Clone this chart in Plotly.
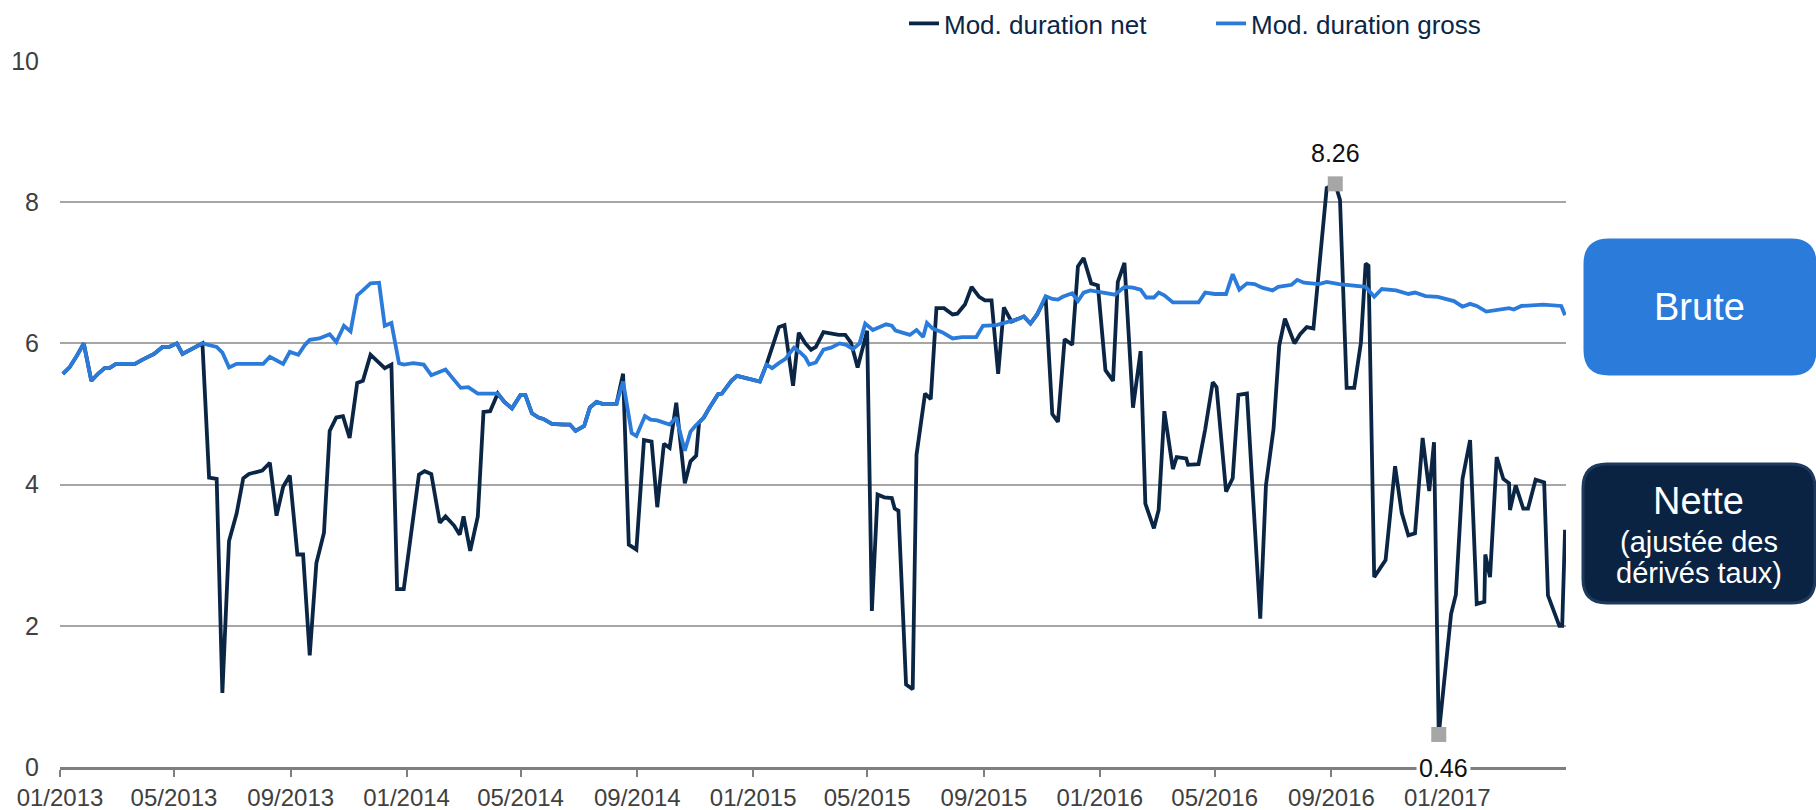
import plotly.graph_objects as go

# Modified duration of the portfolio: gross and net of interest-rate derivatives
gross_dates = [
    "2013-01-04", "2013-01-11", "2013-01-19", "2013-01-26", "2013-02-03", "2013-02-10",
    "2013-02-17", "2013-02-22", "2013-03-01", "2013-03-21", "2013-03-29", "2013-04-10",
    "2013-04-19", "2013-04-26", "2013-05-04", "2013-05-10", "2013-05-31", "2013-06-15",
    "2013-06-21", "2013-06-28", "2013-07-06", "2013-08-03", "2013-08-10", "2013-08-24",
    "2013-08-31", "2013-09-09", "2013-09-16", "2013-09-21", "2013-10-01", "2013-10-12",
    "2013-10-19", "2013-10-27", "2013-11-03", "2013-11-10", "2013-11-16", "2013-11-24",
    "2013-12-03", "2013-12-09", "2013-12-16", "2013-12-24", "2013-12-29", "2014-01-08",
    "2014-01-19", "2014-01-27", "2014-02-11", "2014-02-20", "2014-02-27", "2014-03-07",
    "2014-03-17", "2014-04-07", "2014-04-14", "2014-04-22", "2014-05-01", "2014-05-06",
    "2014-05-13", "2014-05-20", "2014-05-25", "2014-06-03", "2014-06-14", "2014-06-22",
    "2014-06-28", "2014-07-07", "2014-07-13", "2014-07-20", "2014-07-27", "2014-08-10",
    "2014-08-17", "2014-08-26", "2014-08-31", "2014-09-09", "2014-09-15", "2014-09-22",
    "2014-10-05", "2014-10-12", "2014-10-21", "2014-10-27", "2014-11-01", "2014-11-10",
    "2014-11-16", "2014-11-25", "2014-11-29", "2014-12-09", "2014-12-15", "2015-01-08",
    "2015-01-15", "2015-01-21", "2015-01-28", "2015-02-04", "2015-02-13", "2015-02-19",
    "2015-02-25", "2015-03-01", "2015-03-08", "2015-03-16", "2015-03-24", "2015-04-02",
    "2015-04-09", "2015-04-16", "2015-04-23", "2015-04-29", "2015-05-07", "2015-05-21",
    "2015-05-27", "2015-05-31", "2015-06-15", "2015-06-22", "2015-06-29", "2015-07-03",
    "2015-07-09", "2015-07-19", "2015-07-30", "2015-08-09", "2015-08-24", "2015-08-31",
    "2015-09-14", "2015-09-30", "2015-10-06", "2015-10-13", "2015-10-20", "2015-10-27",
    "2015-11-05", "2015-11-12", "2015-11-18", "2015-11-23", "2015-12-03", "2015-12-09",
    "2015-12-15", "2015-12-22", "2015-12-30", "2016-01-07", "2016-01-17", "2016-01-27",
    "2016-02-05", "2016-02-13", "2016-02-19", "2016-02-27", "2016-03-03", "2016-03-09",
    "2016-03-18", "2016-04-14", "2016-04-21", "2016-05-01", "2016-05-13", "2016-05-20",
    "2016-05-27", "2016-06-04", "2016-06-12", "2016-06-20", "2016-07-01", "2016-07-07",
    "2016-07-21", "2016-07-27", "2016-08-03", "2016-08-19", "2016-08-27", "2016-09-09",
    "2016-09-20", "2016-10-07", "2016-10-16", "2016-10-24", "2016-11-08", "2016-11-21",
    "2016-11-28", "2016-12-09", "2016-12-22", "2017-01-08", "2017-01-17", "2017-01-25",
    "2017-02-01", "2017-02-11", "2017-03-07", "2017-03-12", "2017-03-20", "2017-04-12",
    "2017-05-01", "2017-05-05",
]
gross_values = [
    5.57, 5.66, 5.83, 6.00, 5.47, 5.57,
    5.65, 5.65, 5.71, 5.71, 5.77, 5.85,
    5.95, 5.95, 6.00, 5.85, 6.00, 5.95,
    5.87, 5.66, 5.71, 5.71, 5.81, 5.71,
    5.88, 5.84, 5.98, 6.05, 6.07, 6.13,
    6.02, 6.25, 6.17, 6.68, 6.75, 6.85,
    6.86, 6.25, 6.29, 5.72, 5.70, 5.72,
    5.70, 5.55, 5.63, 5.48, 5.37, 5.38,
    5.29, 5.29, 5.17, 5.08, 5.27, 5.27,
    5.01, 4.95, 4.93, 4.86, 4.85, 4.85,
    4.76, 4.83, 5.09, 5.17, 5.14, 5.14,
    5.46, 4.73, 4.69, 4.97, 4.92, 4.91,
    4.85, 4.95, 4.48, 4.75, 4.83, 4.95,
    5.09, 5.28, 5.29, 5.47, 5.54, 5.46,
    5.70, 5.65, 5.72, 5.78, 5.94, 5.88,
    5.80, 5.70, 5.73, 5.91, 5.94, 6.00,
    5.98, 5.92, 6.00, 6.28, 6.19, 6.27,
    6.25, 6.18, 6.12, 6.19, 6.09, 6.29,
    6.21, 6.16, 6.07, 6.09, 6.09, 6.25,
    6.26, 6.31, 6.34, 6.38, 6.28, 6.41,
    6.67, 6.63, 6.62, 6.66, 6.71, 6.60,
    6.72, 6.75, 6.73, 6.72, 6.69, 6.80,
    6.79, 6.76, 6.65, 6.65, 6.72, 6.68,
    6.58, 6.58, 6.72, 6.70, 6.70, 6.98,
    6.76, 6.85, 6.84, 6.79, 6.75, 6.80,
    6.83, 6.90, 6.86, 6.84, 6.87, 6.84,
    6.82, 6.80, 6.66, 6.77, 6.75, 6.70,
    6.72, 6.67, 6.66, 6.60, 6.52, 6.56,
    6.53, 6.45, 6.50, 6.48, 6.53, 6.55,
    6.53, 6.40,
]

net_dates = [
    "2013-01-04", "2013-01-11", "2013-01-19", "2013-01-26", "2013-02-03", "2013-02-10",
    "2013-02-17", "2013-02-22", "2013-03-01", "2013-03-21", "2013-03-29", "2013-04-10",
    "2013-04-19", "2013-04-26", "2013-05-04", "2013-05-10", "2013-05-31", "2013-06-07",
    "2013-06-15", "2013-06-21", "2013-06-28", "2013-07-06", "2013-07-13", "2013-07-19",
    "2013-08-02", "2013-08-10", "2013-08-17", "2013-08-24", "2013-08-31", "2013-09-08",
    "2013-09-14", "2013-09-21", "2013-09-28", "2013-10-06", "2013-10-12", "2013-10-19",
    "2013-10-26", "2013-11-02", "2013-11-10", "2013-11-16", "2013-11-24", "2013-12-02",
    "2013-12-09", "2013-12-16", "2013-12-22", "2013-12-29", "2014-01-07", "2014-01-14",
    "2014-01-20", "2014-01-27", "2014-02-05", "2014-02-11", "2014-02-20", "2014-02-26",
    "2014-03-02", "2014-03-09", "2014-03-17", "2014-03-23", "2014-03-30", "2014-04-07",
    "2014-04-14", "2014-04-22", "2014-05-01", "2014-05-06", "2014-05-13", "2014-05-20",
    "2014-05-25", "2014-06-03", "2014-06-14", "2014-06-22", "2014-06-28", "2014-07-07",
    "2014-07-13", "2014-07-20", "2014-07-27", "2014-08-10", "2014-08-17", "2014-08-23",
    "2014-08-31", "2014-09-08", "2014-09-16", "2014-09-22", "2014-09-29", "2014-10-05",
    "2014-10-12", "2014-10-21", "2014-10-27", "2014-11-02", "2014-11-05", "2014-11-10",
    "2014-11-16", "2014-11-25", "2014-11-29", "2014-12-09", "2014-12-15", "2015-01-08",
    "2015-01-15", "2015-01-21", "2015-01-28", "2015-02-03", "2015-02-12", "2015-02-18",
    "2015-02-25", "2015-03-03", "2015-03-08", "2015-03-16", "2015-03-24", "2015-04-01",
    "2015-04-08", "2015-04-14", "2015-04-21", "2015-05-01", "2015-05-06", "2015-05-12",
    "2015-05-19", "2015-05-27", "2015-05-30", "2015-06-03", "2015-06-11", "2015-06-18",
    "2015-06-22", "2015-07-01", "2015-07-07", "2015-07-13", "2015-07-21", "2015-07-30",
    "2015-08-04", "2015-08-12", "2015-08-19", "2015-08-27", "2015-09-02", "2015-09-09",
    "2015-09-16", "2015-09-22", "2015-09-30", "2015-10-06", "2015-10-13", "2015-10-20",
    "2015-10-27", "2015-11-05", "2015-11-12", "2015-11-18", "2015-11-25", "2015-12-03",
    "2015-12-09", "2015-12-15", "2015-12-23", "2015-12-30", "2016-01-07", "2016-01-15",
    "2016-01-20", "2016-01-27", "2016-02-05", "2016-02-13", "2016-02-18", "2016-02-27",
    "2016-03-03", "2016-03-09", "2016-03-18", "2016-03-22", "2016-04-01", "2016-04-03",
    "2016-04-14", "2016-04-21", "2016-04-29", "2016-05-03", "2016-05-13", "2016-05-20",
    "2016-05-26", "2016-06-04", "2016-06-12", "2016-06-18", "2016-06-24", "2016-07-02",
    "2016-07-08", "2016-07-14", "2016-07-24", "2016-07-30", "2016-08-06", "2016-08-13",
    "2016-08-27", "2016-09-05", "2016-09-10", "2016-09-17", "2016-09-25", "2016-10-02",
    "2016-10-07", "2016-10-10", "2016-10-16", "2016-10-28", "2016-11-07", "2016-11-14",
    "2016-11-21", "2016-11-28", "2016-12-06", "2016-12-13", "2016-12-18", "2016-12-23",
    "2017-01-05", "2017-01-10", "2017-01-17", "2017-01-25", "2017-02-01", "2017-02-09",
    "2017-02-10", "2017-02-15", "2017-02-22", "2017-03-01", "2017-03-07", "2017-03-08",
    "2017-03-14", "2017-03-22", "2017-03-27", "2017-04-04", "2017-04-13", "2017-04-17",
    "2017-04-29", "2017-05-02", "2017-05-05",
]
net_values = [
    5.57, 5.66, 5.83, 6.00, 5.47, 5.57,
    5.65, 5.65, 5.71, 5.71, 5.77, 5.85,
    5.95, 5.95, 6.00, 5.85, 6.00, 4.10,
    4.08, 1.05, 3.20, 3.59, 4.09, 4.15,
    4.20, 4.31, 3.56, 3.97, 4.13, 3.01,
    3.01, 1.58, 2.89, 3.32, 4.76, 4.95,
    4.97, 4.66, 5.44, 5.47, 5.84, 5.73,
    5.65, 5.70, 2.52, 2.52, 3.49, 4.14,
    4.19, 4.15, 3.46, 3.55, 3.42, 3.29,
    3.55, 3.06, 3.55, 5.03, 5.04, 5.29,
    5.17, 5.08, 5.27, 5.27, 5.01, 4.95,
    4.93, 4.86, 4.85, 4.85, 4.76, 4.83,
    5.09, 5.17, 5.14, 5.14, 5.57, 3.15,
    3.08, 4.63, 4.61, 3.68, 4.58, 4.52,
    5.16, 4.02, 4.33, 4.41, 4.88, 4.95,
    5.09, 5.28, 5.29, 5.47, 5.54, 5.46,
    5.70, 5.95, 6.23, 6.26, 5.40, 6.15,
    6.00, 5.91, 5.95, 6.16, 6.14, 6.12,
    6.12, 6.01, 5.66, 6.18, 2.21, 3.86,
    3.82, 3.81, 3.66, 3.63, 1.17, 1.10,
    4.42, 5.29, 5.21, 6.50, 6.50, 6.41,
    6.42, 6.55, 6.80, 6.66, 6.61, 6.61,
    5.57, 6.51, 6.31, 6.34, 6.38, 6.28,
    6.41, 6.65, 5.00, 4.89, 6.06, 5.98,
    7.09, 7.21, 6.85, 6.82, 5.62, 5.47,
    6.87, 7.14, 5.09, 5.89, 3.73, 3.38,
    3.64, 5.04, 4.22, 4.39, 4.37, 4.28,
    4.29, 4.78, 5.45, 5.38, 3.90, 4.09,
    5.27, 5.29, 3.42, 2.10, 3.99, 4.79,
    5.97, 6.35, 6.00, 6.13, 6.23, 6.21,
    8.20, 8.26, 8.03, 5.37, 5.37, 6.01,
    7.13, 7.10, 2.69, 2.93, 4.26, 3.60,
    3.28, 3.31, 4.66, 3.91, 4.60, 0.46,
    2.17, 2.44, 4.08, 4.63, 2.31, 2.34,
    3.01, 2.69, 4.39, 4.08, 4.02, 3.64,
    3.99, 3.66, 3.66, 4.07, 4.03, 2.43,
    2.00, 2.00, 3.36,
]

tick_dates = [
    "2013-01-01", "2013-05-01", "2013-09-01", "2014-01-01", "2014-05-01", "2014-09-01",
    "2015-01-01", "2015-05-01", "2015-09-01", "2016-01-01", "2016-05-01", "2016-09-01",
    "2017-01-01",
]
tick_labels = [
    "01/2013", "05/2013", "09/2013", "01/2014", "05/2014", "09/2014",
    "01/2015", "05/2015", "09/2015", "01/2016", "05/2016", "09/2016",
    "01/2017",
]

NET_COLOR = "#0b2645"
GROSS_COLOR = "#2b7bdb"
GRID_COLOR = "#a6a6a6"
AXIS_COLOR = "#7f7f7f"
TEXT_COLOR = "#404040"
FONT = "Liberation Sans, Arial, sans-serif"

W, H = 1816, 810
L, R, T, B = 60, 250, 61, 43
PLOT_W = W - L - R
PLOT_H = H - T - B

fig = go.Figure()

fig.add_trace(go.Scatter(
    x=net_dates, y=net_values, mode="lines", name="Mod. duration net",
    line=dict(color=NET_COLOR, width=3.8),
))
fig.add_trace(go.Scatter(
    x=gross_dates, y=gross_values, mode="lines", name="Mod. duration gross",
    line=dict(color=GROSS_COLOR, width=3.8),
))

# highest and lowest net duration, flagged with grey squares
i_max = max(range(len(net_values)), key=net_values.__getitem__)
i_min = min(range(len(net_values)), key=net_values.__getitem__)
fig.add_trace(go.Scatter(
    x=[net_dates[i_max], net_dates[i_min]],
    y=[net_values[i_max], net_values[i_min]],
    mode="markers", showlegend=False, hoverinfo="skip",
    marker=dict(symbol="square", size=15, color="#a6a6a6"),
))

annotations = [
    dict(x=net_dates[i_max], y=net_values[i_max], text=f"{net_values[i_max]:.2f}",
         showarrow=False, yshift=31, font=dict(family=FONT, size=25, color="#111111")),
    dict(x=net_dates[i_min], y=net_values[i_min], text=f"{net_values[i_min]:.2f}",
         showarrow=False, yshift=-33, xshift=5, bgcolor="white", borderpad=2,
         font=dict(family=FONT, size=25, color="#111111")),
]


def rounded_box(x0, y0, x1, y1, r):
    return (f"M{x0 + r},{y0} L{x1 - r},{y0} Q{x1},{y0} {x1},{y0 + r} "
            f"L{x1},{y1 - r} Q{x1},{y1} {x1 - r},{y1} L{x0 + r},{y1} "
            f"Q{x0},{y1} {x0},{y1 - r} L{x0},{y0 + r} Q{x0},{y0} {x0 + r},{y0} Z")


# side labels: boxes anchored to the bottom-right corner of the plot area (pixel offsets)
boxes = [
    dict(x0=19, y0=393, x1=249, y1=527, fill=GROSS_COLOR, edge=GROSS_COLOR),
    dict(x0=17, y0=164, x1=249, y1=303, fill="#0b2342", edge="#1d3a5e"),
]
shapes = []
for b in boxes:
    shapes.append(dict(
        type="path", xref="paper", yref="paper", xsizemode="pixel", ysizemode="pixel",
        xanchor=1, yanchor=0, path=rounded_box(b["x0"], b["y0"], b["x1"], b["y1"], 24),
        fillcolor=b["fill"], line=dict(color=b["edge"], width=3), layer="above",
    ))

box_texts = [
    ("Brute", 134, 460, 38),
    ("Nette", 133, 266, 38),
    ("(ajustée des", 133, 225, 29),
    ("dérivés taux)", 133, 194, 29),
]
for txt, dx, dy, size in box_texts:
    annotations.append(dict(
        x=1 + dx / PLOT_W, y=dy / PLOT_H, xref="paper", yref="paper", text=txt,
        showarrow=False, xanchor="center", yanchor="middle",
        font=dict(family=FONT, size=size, color="white"),
    ))

fig.update_layout(
    width=W, height=H, autosize=False,
    margin=dict(l=L, r=R, t=T, b=B, autoexpand=False),
    paper_bgcolor="white", plot_bgcolor="white",
    font=dict(family=FONT, size=24, color=TEXT_COLOR),
    showlegend=True,
    legend=dict(
        orientation="h", x=(904 - L) / PLOT_W, xanchor="left",
        y=1 + T / PLOT_H, yanchor="top",
        font=dict(family=FONT, size=26, color=NET_COLOR),
        bgcolor="rgba(0,0,0,0)", itemwidth=30, entrywidth=262,
    ),
    annotations=annotations,
    shapes=shapes,
    hovermode=False,
)

fig.update_xaxes(
    type="date", range=["2013-01-01", "2017-05-06"],
    tickmode="array", tickvals=tick_dates, ticktext=tick_labels,
    ticks="outside", ticklen=7, tickwidth=2, tickcolor=AXIS_COLOR,
    showline=True, linecolor=AXIS_COLOR, linewidth=2.5,
    showgrid=False, zeroline=False, automargin=False,
    tickfont=dict(family=FONT, size=24, color=TEXT_COLOR),
)
fig.update_yaxes(
    range=[0, 10], dtick=2, showgrid=True, gridcolor=GRID_COLOR, gridwidth=1.5,
    zeroline=False, showline=False, ticks="", ticklabelstandoff=20, automargin=False,
    tickfont=dict(family=FONT, size=25, color=TEXT_COLOR),
)

fig.write_html("out.html")
